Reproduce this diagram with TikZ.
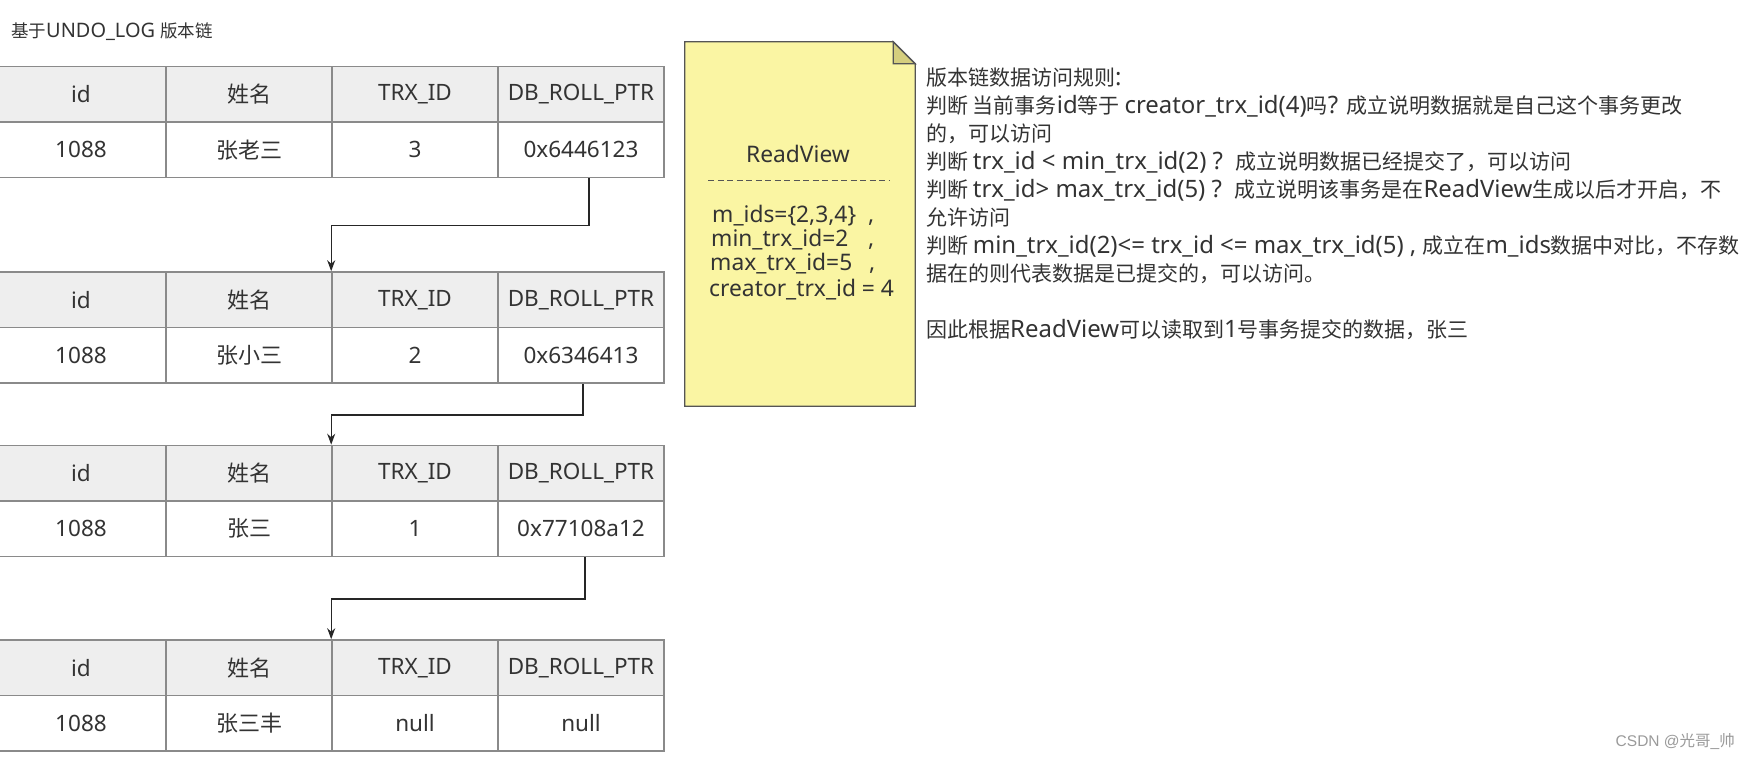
\documentclass[tikz,border=0pt]{standalone}
\usepackage{fontspec}
\setmainfont{Noto Sans CJK SC}
\newfontfamily\cjkfam{Noto Sans CJK SC}
\newfontfamily\latfam[Scale=1.14]{Noto Sans}
\newfontfamily\csdnlat{Liberation Sans}
\newXeTeXintercharclass\CJKcls
\count255="3000
\loop
  \XeTeXcharclass\count255=\CJKcls
  \advance\count255 by 1
\ifnum\count255<"A000 \repeat
\count255="FF00
\loop
  \XeTeXcharclass\count255=\CJKcls
  \advance\count255 by 1
\ifnum\count255<"FFF0 \repeat
\XeTeXinterchartoks 0 \CJKcls = {\cjkfam}
\XeTeXinterchartoks 4095 \CJKcls = {\cjkfam}
\XeTeXinterchartoks \CJKcls 0 = {\latfam}
\XeTeXinterchartoks 4095 0 = {\latfam}
\XeTeXinterchartokenstate=1
\usetikzlibrary{arrows.meta,calc}
\definecolor{bordergray}{HTML}{8A8A8A}
\definecolor{hdrfill}{HTML}{EEEEEE}
\definecolor{txt}{HTML}{333333}
\definecolor{notefill}{HTML}{FAF5A3}
\definecolor{notefold}{HTML}{D5CE7E}
\definecolor{noteline}{HTML}{555555}
\definecolor{wmgray}{HTML}{9A9A9A}
\newcommand\undotab[5]{%
  \node[hcell,minimum width=170pt] (#1h1) at (81,#2+27.75) {id};
  \node[hcell,cjkcell] (#1h2) at (249,#2+27.75) {姓名};
  \node[hcell] (#1h3) at (415,#2+27.75) {TRX\_ID};
  \node[hcell] (#1h4) at (581,#2+27.75) {DB\_ROLL\_PTR};
  \node[dcell,minimum width=170pt] (#1d1) at (81,#2+83.25) {1088};
  \node[dcell,cjkcell] (#1d2) at (249,#2+83.25) {#3};
  \node[dcell] (#1d3) at (415,#2+83.25) {#4};
  \node[dcell] (#1d4) at (581,#2+83.25) {#5};
}
\begin{document}
\begin{tikzpicture}[x=1pt,y=-1pt,
  cell/.style={draw=bordergray,line width=1.6pt,minimum width=166pt,minimum height=55.5pt,inner sep=0pt,text=txt,font=\fontsize{19.75}{25}\selectfont,anchor=center},
  cjkcell/.style={font=\fontsize{22}{26}\selectfont},
  hcell/.style={cell,fill=hdrfill},
  dcell/.style={cell,fill=white},
  chainarrow/.style={draw=black!85,line width=1.2pt,-{Stealth[length=11pt,width=8pt]}},
  notetxt/.style={inner sep=0pt,text=txt,font=\fontsize{20}{25}\selectfont},
  ruletxt/.style={inner sep=0pt,text=txt,font=\fontsize{21}{28}\selectfont,anchor=base west},
]
\useasboundingbox (0,0) rectangle (1749,758);
\fill[white] (0,0) rectangle (1749,758);

\node[inner sep=0pt,anchor=base west,text=txt,font=\fontsize{17.5}{22}\selectfont] (title) at (11,37) {基于UNDO\_LOG 版本链};

\undotab{t1}{66.5}{张老三}{3}{0x6446123}
\undotab{t2}{272}{张小三}{2}{0x6346413}
\undotab{t3}{445.5}{张三}{1}{0x77108a12}
\undotab{t4}{640}{张三丰}{null}{null}

\draw[chainarrow] ([xshift=8pt]t1d4.south) -- ++(0,47.5) -| (t2h3.north west);
\draw[chainarrow] ([xshift=2pt]t2d4.south) -- ++(0,31.25) -| (t3h3.north west);
\draw[chainarrow] ([xshift=4pt]t3d4.south) -- ++(0,41.75) -| (t4h3.north west);

% note
\node[minimum width=230pt,minimum height=364pt,inner sep=0pt] (note) at (800,224) {};
\filldraw[fill=notefill,draw=noteline,line width=1.3pt,line join=miter]
  (note.north west) -- ([xshift=-22pt]note.north east) -- ([yshift=-22pt]note.north east)
  -- (note.south east) -- (note.south west) -- cycle;
\filldraw[fill=notefold,draw=noteline,line width=1.3pt,line join=miter]
  ([xshift=-22pt]note.north east) -- ([xshift=-22pt,yshift=-22pt]note.north east)
  -- ([yshift=-22pt]note.north east) -- cycle;
\node[notetxt,anchor=base] (rvtitle) at (798,162) {ReadView};
\draw[noteline,line width=1pt,dash pattern=on 6pt off 3.5pt] ([xshift=-90pt,yshift=-18pt]rvtitle.base) -- ([xshift=91pt,yshift=-18pt]rvtitle.base);
\node[notetxt,anchor=base west] (rv1) at (712,222) {\makebox[156pt][l]{m\_ids=\{2,3,4\}},};
\node[notetxt,anchor=base west] (rv2) at (711,246) {\makebox[157pt][l]{min\_trx\_id=2},};
\node[notetxt,anchor=base west] (rv3) at (710,270) {\makebox[159pt][l]{max\_trx\_id=5},};
\node[notetxt,anchor=base west] (rv4) at (709,296) {creator\_trx\_id = 4};

% rules text
\node[ruletxt] (r1) at (926,85) {版本链数据访问规则:};
\node[ruletxt] (r2) at (926,113) {判断 当前事务id等于 creator\_trx\_id(4)吗? 成立说明数据就是自己这个事务更改};
\node[ruletxt] (r3) at (926,141) {的，可以访问};
\node[ruletxt] (r4) at (926,169) {判断 trx\_id < min\_trx\_id(2) ?\ \ 成立说明数据已经提交了，可以访问};
\node[ruletxt] (r5) at (926,197) {判断 trx\_id> max\_trx\_id(5) ?\ \ 成立说明该事务是在ReadView生成以后才开启，不};
\node[ruletxt] (r6) at (926,225) {允许访问};
\node[ruletxt] (r7) at (926,253) {判断 min\_trx\_id(2)<= trx\_id <= max\_trx\_id(5) , 成立在m\_ids数据中对比，不存数};
\node[ruletxt] (r8) at (926,281) {据在的则代表数据是已提交的，可以访问。};
\node[ruletxt] (r9) at (926,337) {因此根据ReadView可以读取到1号事务提交的数据，张三};

\node[inner sep=0pt,anchor=base east,text=wmgray,font=\fontsize{15.5}{20}\selectfont\let\latfam\csdnlat] (csdn) at (1735,746) {CSDN @光哥\_帅};
\end{tikzpicture}
\end{document}
